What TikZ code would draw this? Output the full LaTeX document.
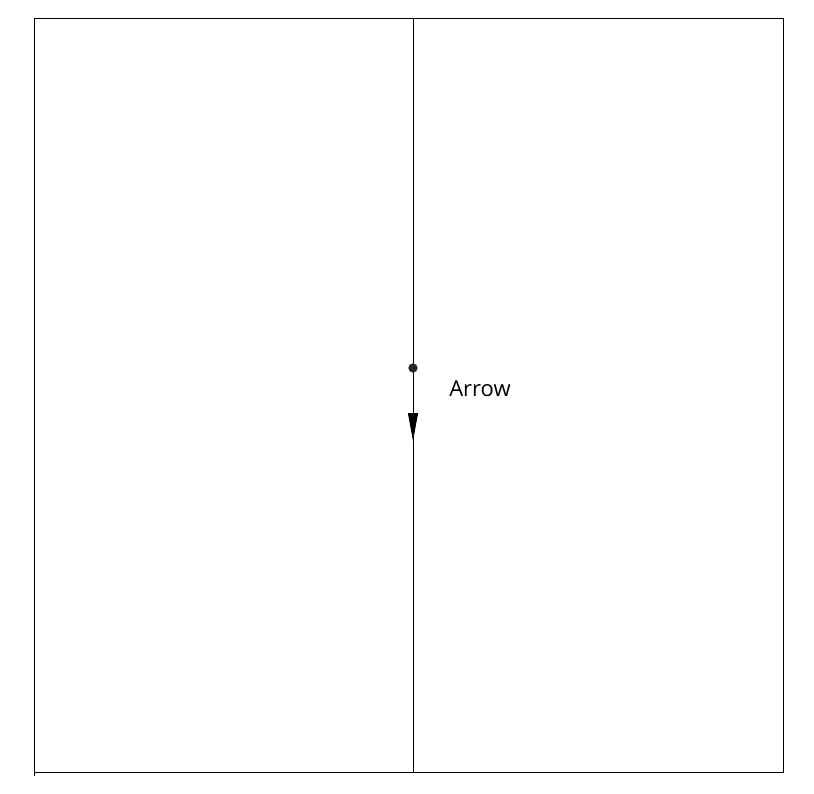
\documentclass[tikz,border=0pt]{standalone}
\usepackage{fontspec}
\setmainfont{Open Sans}
\usetikzlibrary{arrows.meta}

\begin{document}
\begin{tikzpicture}[x=0.75pt,y=-0.75pt,
        frame/.style={draw=black,line width=0.65pt},
        pt/.style={circle,fill=black!85,inner sep=0pt,minimum size=7pt},
        a/.style={-{Triangle[length=21pt,width=7.5pt]},draw=black,line width=0.65pt}]
        \useasboundingbox (0,0) rectangle (814,793);
        \coordinate (tl) at (34,18);
        \coordinate (tr) at (783,18);
        \coordinate (br) at (783,772);
        \coordinate (bl) at (34,772);
        \coordinate (tick) at (34,776);
        \coordinate (mt) at (413,18);
        \coordinate (mb) at (413,772);
        \coordinate (tip) at (413,441);
        \draw[frame] (tick)--(tl)--(tr)--(br)--(bl);
        \draw[frame] (mt)--(mb);
        \node[pt] (p) at (413,368) {};
        \draw[a] (p)--(tip);
        \node[font=\fontsize{16.5}{20}\selectfont,anchor=west,inner sep=0pt] (lbl) at (449,389) {Arrow};
      \end{tikzpicture}
\end{document}
